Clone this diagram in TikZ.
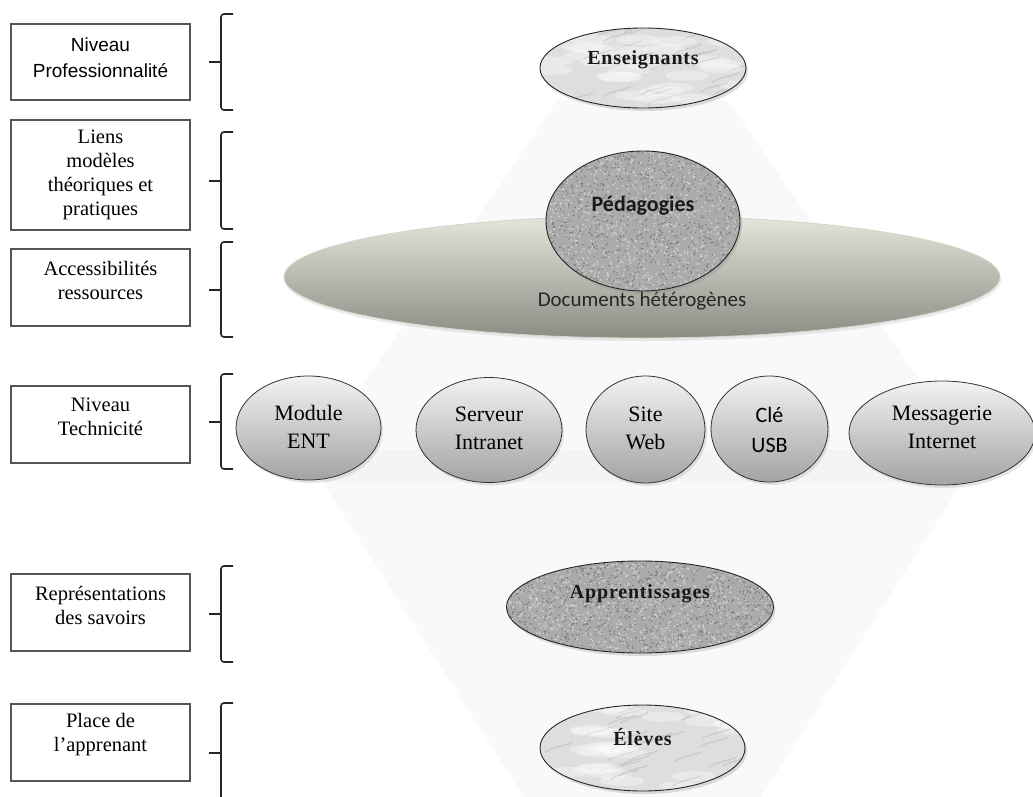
\documentclass[tikz,border=0pt]{standalone}
\usepackage{fontspec}
\setmainfont{Liberation Serif}
\newfontfamily\calib{Carlito}
\newfontfamily\sansf{Liberation Sans}
\newfontfamily\spaced[LetterSpace=4.0]{Liberation Serif}
\usetikzlibrary{shapes.geometric,shadows}
\definecolor{bgpoly}{HTML}{F9F9F9}
\definecolor{bgband}{HTML}{F4F4F4}
\definecolor{boxline}{HTML}{555555}
\definecolor{doctop}{HTML}{E6E5DB}
\definecolor{docbot}{HTML}{8C8C85}
\definecolor{docrim}{HTML}{D6D4C8}
\newcommand\granitetex[3]{%
  \foreach \i in {1,...,#3}{%
    \pgfmathsetmacro\ax{rand*#1}\pgfmathsetmacro\ay{rand*#2}%
    \pgfmathsetmacro\bx{rand*#1}\pgfmathsetmacro\by{rand*#2}%
    \fill[black!55, opacity=0.8] ([shift={(\ax,\ay)}]path picture bounding box.center) circle (0.9pt);
    \fill[black!15, opacity=0.8] ([shift={(\bx,\by)}]path picture bounding box.center) circle (1.0pt);
  }}
\newcommand\marbletex[3]{%
  \foreach \i in {1,...,#3}{%
    \pgfmathsetmacro\ax{rand*#1}\pgfmathsetmacro\ay{rand*#2}%
    \pgfmathsetmacro\bx{rand*#1}\pgfmathsetmacro\by{rand*#2}%
    \pgfmathsetmacro\ang{20+rand*20}%
    \fill[white, opacity=0.35, rotate around={\ang:([shift={(\ax,\ay)}]path picture bounding box.center)}]
      ([shift={(\ax,\ay)}]path picture bounding box.center) ellipse (22pt and 5pt);
    \draw[black!35, opacity=0.35, line width=1.2pt]
      ([shift={(\bx,\by)}]path picture bounding box.center) .. controls +(8,-6) and +(-8,4) .. +(28,-10);
  }}
\begin{document}
\begin{tikzpicture}[x=1pt,y=-1pt,
  lbox/.style={draw=boxline, line width=1.3pt, fill=white, minimum width=179pt, inner sep=0pt},
  ltext/.style={align=center, font=\fontsize{20.5}{24}\selectfont, inner sep=0pt},
  bracestyle/.style={draw=black!85, line width=1.6pt, rounded corners=3pt},
  granite/.style={ellipse, draw=black!85, line width=0.9pt, fill=black!33, inner sep=0pt,
     drop shadow={opacity=0.25, shadow xshift=2pt, shadow yshift=-3pt}},
  marble/.style={ellipse, draw=black!85, line width=0.9pt, fill=black!13, inner sep=0pt,
     drop shadow={opacity=0.25, shadow xshift=2pt, shadow yshift=-3pt}},
  tech/.style={ellipse, draw=black!80, line width=0.8pt, top color=black!5, bottom color=black!36,
     inner sep=0pt, drop shadow={opacity=0.2, shadow xshift=2pt, shadow yshift=-3pt}},
  techtext/.style={align=center, font=\fontsize{22}{28}\selectfont, inner sep=0pt},
  titletext/.style={font=\spaced\bfseries\fontsize{20}{24}\selectfont, text=black!90, inner sep=0pt}
]
\clip (0,0) rectangle (1033,797);
\fill[white] (0,0) rectangle (1033,797);
% faint background polygon
\fill[bgpoly] (558,100) -- (728,100) -- (975,462) -- (740,830) -- (545,830) -- (310,462) -- cycle;
\fill[bgband] (320,450) -- (965,450) -- (985,465) -- (960,482) -- (325,482) -- (303,465) -- cycle;

% left boxes
\node[lbox, minimum height=76pt] (b1) at (100.5,62) {};
\node[ltext, font=\sansf\fontsize{19}{26}\selectfont] (t1) at (100.5,58) {Niveau\\Professionnalité};
\node[lbox, minimum height=110pt] (b2) at (100.5,175) {};
\node[ltext] (t2) at (100.5,175) {Liens\\modèles\\théoriques et\\pratiques};
\node[lbox, minimum height=77pt] (b3) at (100.5,287.5) {};
\node[ltext] (t3) at (100.5,280) {Accessibilités\\ressources};
\node[lbox, minimum height=77pt] (b4) at (100.5,424.5) {};
\node[ltext] (t4) at (100.5,417) {Niveau\\Technicité};
\node[lbox, minimum height=77pt] (b5) at (100.5,612.5) {};
\node[ltext] (t5) at (100.5,605) {Représentations\\des savoirs};
\node[lbox, minimum height=77pt] (b6) at (100.5,742.5) {};
\node[ltext] (t6) at (100.5,735) {Place de\\l’apprenant};

% braces
\foreach \t/\m/\b in {14/62/110, 132/181/229, 242/290/337, 374/422/469, 566/614/662, 703/753/810}{
  \draw[bracestyle] (233,\t) -- (221,\t) -- (221,\b) -- (233,\b);
  \draw[bracestyle] (209,\m) -- (221,\m);
}

% Documents heterogenes
\node[ellipse, minimum width=716pt, minimum height=122pt, inner sep=0pt, draw=docrim, line width=0.8pt,
      top color=doctop, bottom color=docbot, drop shadow={opacity=0.15, shadow xshift=1pt, shadow yshift=-3pt}] (doc) at (642,277) {};
\node[font=\calib\fontsize{21}{24}\selectfont, text=black!85, inner sep=0pt] (doct) at (642,301) {Documents hétérogènes};

% Enseignants
\node[marble, minimum width=206pt, minimum height=80pt, path picture={\marbletex{100}{38}{28}}] (ens) at (643,68) {};
\node[titletext] (enst) at (643,60) {Enseignants};

% Pedagogies
\node[granite, minimum width=194pt, minimum height=140pt, path picture={\granitetex{97}{70}{900}}] (ped) at (643,221) {};
\node[font=\calib\bfseries\fontsize{22}{24}\selectfont, text=black!90, inner sep=0pt] (pedt) at (643,206) {Pédagogies};

% Technicite
\node[tech, minimum width=145pt, minimum height=104pt] (ent) at (308.5,428) {};
\node[techtext] (entt) at (308.5,427) {Module\\ENT};
\node[tech, minimum width=146pt, minimum height=105pt] (srv) at (489,430) {};
\node[techtext] (srvt) at (489,428.5) {Serveur\\Intranet};
\node[tech, minimum width=119pt, minimum height=107pt] (web) at (645.5,429.5) {};
\node[techtext] (webt) at (645.5,428) {Site\\Web};
\node[tech, minimum width=117pt, minimum height=106pt] (usb) at (769.5,429) {};
\node[techtext, font=\calib\fontsize{22}{30}\selectfont] (usbt) at (769.5,429.5) {Clé\\USB};
\node[tech, minimum width=186pt, minimum height=104pt] (mail) at (942,433) {};
\node[techtext] (mailt) at (942,427) {Messagerie\\Internet};

% Apprentissages
\node[granite, minimum width=267pt, minimum height=92pt, path picture={\granitetex{134}{46}{1000}}] (app) at (640,607) {};
\node[titletext] (appt) at (640,594) {Apprentissages};

% Eleves
\node[marble, minimum width=205pt, minimum height=86pt, path picture={\marbletex{100}{42}{28}}] (elv) at (642.5,748) {};
\node[titletext] (elvt) at (642.5,737) {Élèves};
\end{tikzpicture}
\end{document}
